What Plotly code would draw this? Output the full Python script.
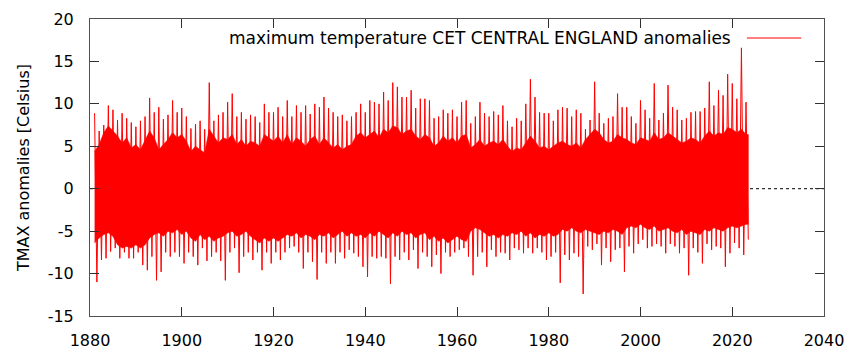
import numpy as np
import plotly.graph_objects as go

# ---- data (daily TMAX anomalies, summarised per year) ----
years = list(range(1881, 2024))
# highest / lowest daily anomaly of each year (isolated spikes)
tmax_hi = [
    8.9, 6.8, 7.5, 9.8, 9.3, 8.1, 8.9, 8.3, 7.8, 7.3,
    8.0, 8.5, 10.7, 9.0, 9.6, 8.2, 8.7, 10.4, 9.0, 9.5,
    8.5, 7.1, 7.6, 8.0, 7.0, 12.5, 8.0, 8.7, 9.0, 10.2,
    11.2, 8.5, 9.0, 8.2, 8.7, 8.5, 7.8, 10.0, 9.0, 9.0,
    9.6, 8.5, 10.4, 8.5, 9.8, 9.0, 9.8, 8.8, 10.0, 9.6,
    10.8, 9.5, 9.0, 8.5, 8.7, 8.0, 8.5, 9.0, 10.0, 9.0,
    10.4, 10.2, 10.0, 11.4, 10.4, 12.5, 12.0, 10.8, 10.8, 11.6,
    9.5, 10.6, 10.6, 10.4, 8.3, 8.5, 9.3, 8.9, 9.3, 8.5,
    10.2, 10.4, 7.7, 8.5, 10.2, 8.9, 8.5, 9.1, 8.7, 9.8,
    8.0, 7.3, 8.3, 8.0, 10.0, 12.9, 10.8, 9.0, 8.9, 8.9,
    8.0, 9.3, 9.6, 9.5, 8.5, 9.3, 8.9, 7.0, 8.1, 12.6,
    8.9, 7.7, 8.3, 8.5, 11.2, 9.6, 9.6, 8.5, 7.7, 10.4,
    9.3, 8.3, 12.4, 8.1, 8.9, 12.2, 9.6, 9.3, 8.1, 8.3,
    9.0, 9.1, 9.1, 9.5, 12.6, 9.8, 11.6, 11.0, 13.5, 12.4,
    10.6, 16.6, 10.2,
]
tmax_lo = [
    -11.0, -8.4, -8.2, -7.4, -7.0, -8.2, -7.5, -8.2, -8.2, -7.5,
    -9.0, -9.6, -8.0, -10.8, -9.8, -7.5, -8.0, -7.5, -8.0, -8.8,
    -7.5, -8.0, -9.0, -7.0, -8.5, -8.0, -7.5, -8.5, -10.8, -7.5,
    -7.0, -9.9, -8.0, -7.5, -8.4, -7.5, -9.6, -7.5, -8.8, -7.5,
    -8.4, -7.5, -7.0, -6.8, -7.5, -9.4, -7.5, -8.6, -10.7, -7.5,
    -8.8, -7.5, -8.8, -7.5, -8.2, -7.2, -7.6, -8.0, -9.2, -10.4,
    -8.0, -8.2, -8.0, -8.2, -11.2, -8.0, -8.4, -7.5, -8.4, -7.2,
    -9.4, -7.5, -8.0, -9.2, -7.8, -10.0, -7.5, -8.0, -7.5, -7.2,
    -7.0, -8.0, -10.2, -8.0, -7.5, -9.2, -7.2, -8.0, -7.5, -7.6,
    -8.4, -7.0, -7.2, -7.6, -7.0, -7.6, -7.0, -7.5, -8.4, -8.0,
    -7.5, -11.1, -7.8, -8.4, -7.6, -8.0, -12.4, -6.8, -7.2, -6.5,
    -9.0, -7.0, -8.6, -7.2, -7.0, -9.8, -6.8, -7.6, -6.5, -6.0,
    -7.0, -6.8, -6.5, -6.8, -7.6, -6.5, -6.8, -7.6, -7.0, -10.2,
    -7.0, -7.5, -8.8, -6.5, -7.2, -6.8, -7.0, -9.2, -7.6, -6.4,
    -7.0, -7.8, -6.0,
]
# upper / lower edge of the dense mass of daily values in each year
mass_hi = [
    4.4, 5.2, 6.6, 7.4, 6.8, 6.2, 5.4, 6.0, 4.8, 5.2,
    4.6, 5.8, 6.8, 6.0, 4.6, 5.2, 5.8, 6.6, 6.0, 6.4,
    5.6, 4.4, 5.0, 4.6, 4.2, 7.0, 6.2, 5.4, 6.0, 5.8,
    6.4, 5.2, 5.8, 5.0, 5.6, 5.4, 5.0, 6.4, 6.0, 5.6,
    6.2, 5.4, 6.4, 5.2, 6.0, 5.6, 5.0, 5.8, 6.2, 5.2,
    6.0, 5.4, 4.8, 5.2, 4.6, 5.0, 5.2, 6.2, 6.6, 6.0,
    6.4, 6.8, 6.0, 7.0, 6.6, 7.4, 7.2, 6.4, 6.8, 7.0,
    6.2, 5.8, 6.4, 6.0, 5.0, 5.4, 6.2, 5.6, 6.0, 5.4,
    6.2, 6.4, 4.8, 5.2, 5.8, 5.0, 5.4, 5.6, 5.2, 5.8,
    5.0, 4.4, 4.8, 4.6, 5.4, 6.2, 5.6, 4.8, 5.0, 4.6,
    5.0, 5.4, 5.6, 5.2, 5.0, 5.4, 4.8, 5.8, 6.4, 7.0,
    6.6, 5.8, 5.4, 5.6, 6.4, 6.0, 5.8, 5.4, 5.2, 6.0,
    5.8, 5.6, 6.6, 5.8, 6.0, 6.6, 6.2, 5.8, 5.4, 5.6,
    6.0, 5.8, 5.4, 6.2, 6.8, 6.2, 6.6, 6.4, 7.2, 7.0,
    6.6, 7.0, 6.4,
]
mass_lo = [
    -6.4, -5.8, -5.4, -5.2, -5.6, -6.6, -7.0, -6.8, -7.0, -6.6,
    -7.0, -6.6, -5.8, -5.4, -5.2, -5.6, -5.0, -5.2, -4.8, -5.4,
    -5.0, -5.8, -6.2, -5.4, -6.0, -5.6, -6.2, -5.8, -5.6, -5.2,
    -5.0, -5.6, -5.4, -5.0, -5.6, -6.0, -6.4, -5.8, -6.2, -5.8,
    -6.2, -5.8, -5.4, -5.6, -5.2, -5.8, -5.4, -5.6, -6.0, -5.4,
    -5.6, -5.2, -5.8, -5.4, -5.0, -5.6, -5.2, -5.6, -5.4, -5.8,
    -5.2, -5.6, -5.0, -5.4, -5.8, -5.2, -5.6, -5.0, -5.4, -5.2,
    -5.8, -5.4, -5.2, -6.0, -5.6, -6.2, -5.8, -6.4, -6.0, -5.6,
    -6.0, -6.2, -5.0, -4.6, -4.8, -5.2, -5.6, -5.4, -5.8, -5.4,
    -5.6, -5.2, -5.4, -5.0, -5.6, -5.2, -5.8, -5.4, -5.6, -5.2,
    -5.6, -5.4, -4.8, -5.0, -4.6, -5.0, -5.2, -4.8, -5.0, -5.2,
    -5.4, -5.0, -5.2, -4.8, -5.0, -5.4, -4.6, -4.4, -4.6, -4.2,
    -4.6, -4.8, -4.4, -5.0, -4.8, -4.6, -5.0, -5.2, -4.8, -5.4,
    -5.0, -5.2, -5.4, -4.8, -5.0, -4.6, -4.8, -5.0, -4.6, -4.4,
    -4.6, -4.4, -4.2,
]
data_end = 2023.5

legend_text = "maximum temperature CET CENTRAL ENGLAND anomalies"
y_title = "TMAX anomalies [Celsius]"
x_ticks = [1880, 1900, 1920, 1940, 1960, 1980, 2000, 2020, 2040]
y_ticks = [-15, -10, -5, 0, 5, 10, 15, 20]

RED = "#ff0000"
FONT = "DejaVu Sans"

fig = go.Figure()

# zero line (dotted)
fig.add_trace(go.Scatter(x=[x_ticks[0], x_ticks[-1]], y=[0, 0], mode="lines",
                         line=dict(color="black", width=1, dash="dot"),
                         showlegend=False, hoverinfo="skip"))

yr = np.array(years, dtype=float)
# dense mass: polygon through the yearly upper edges and back along the lower edges
mx = np.concatenate([yr, [data_end, data_end], yr[::-1]])
my = np.concatenate([mass_hi, [mass_hi[-1], mass_lo[-1]], mass_lo[::-1]])
fig.add_trace(go.Scatter(x=mx, y=my, fill="toself", fillcolor=RED, mode="lines",
                         line=dict(width=0.6, color=RED), showlegend=False, hoverinfo="skip"))

# spikes: yearly maxima and minima
xs = np.ravel(np.column_stack([yr, yr + 0.5]))
ys = np.ravel(np.column_stack([np.array(tmax_hi), np.array(tmax_lo)]))
fig.add_trace(go.Scatter(x=xs, y=ys, mode="lines",
                         line=dict(color=RED, width=1),
                         showlegend=False, hoverinfo="skip"))

axis_common = dict(showgrid=False, zeroline=False, showline=True, linecolor="#505050",
                   linewidth=1, mirror="allticks", ticks="inside", ticklen=9,
                   tickcolor="#303030", tickwidth=1, automargin=False,
                   tickfont=dict(family=FONT, size=16, color="black"))

fig.update_xaxes(range=[x_ticks[0], x_ticks[-1]], tickmode="array", tickvals=x_ticks,
                 ticktext=[str(v) for v in x_ticks], ticklabelstandoff=10, **axis_common)
fig.update_yaxes(range=[y_ticks[0], y_ticks[-1]], tickmode="array", tickvals=y_ticks,
                 ticktext=[str(v) for v in y_ticks], ticklabelstandoff=12,
                 title=dict(text=y_title, font=dict(family=FONT, size=16, color="black"),
                            standoff=14), **axis_common)

# gnuplot-style key: text then line sample
fig.add_annotation(x=0.876, y=0.936, xref="paper", yref="paper", text=legend_text,
                   showarrow=False, xanchor="right", yanchor="middle",
                   font=dict(family=FONT, size=17.0, color="black"))
fig.add_shape(type="line", xref="paper", yref="paper", x0=0.895, x1=0.969, y0=0.936, y1=0.936,
              line=dict(color="red", width=1.2), layer="above")

fig.update_layout(width=852, height=354, margin=dict(l=90, r=28, t=19, b=38),
                  paper_bgcolor="white", plot_bgcolor="white",
                  font=dict(family=FONT, size=16, color="black"))

fig.write_html("out.html")
